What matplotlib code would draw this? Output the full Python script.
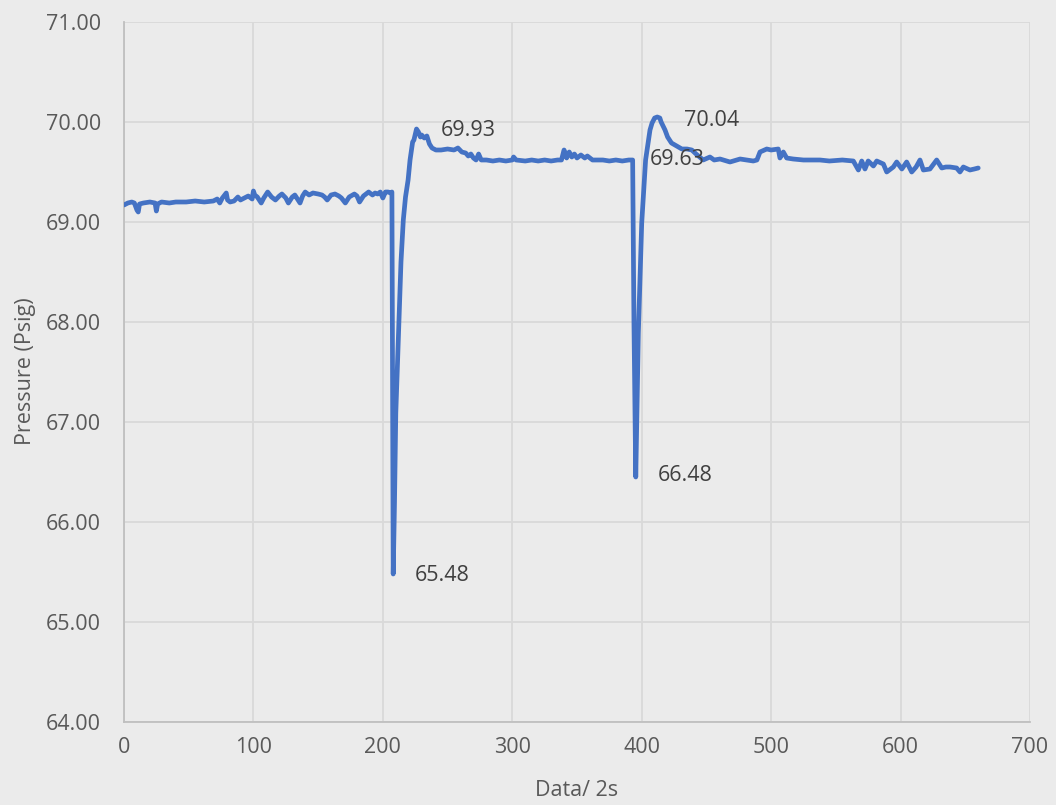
import matplotlib
matplotlib.use("Agg")
import matplotlib.pyplot as plt

# ---- data ----
x_vals = [0, 3, 6, 8, 10, 11, 12, 15, 20, 24, 25, 26, 29, 35, 40, 48, 55, 62, 69, 72,
          74, 76, 79, 80, 82, 85, 88, 90, 93, 96, 99, 100, 101, 103, 106, 108, 111, 114,
          117, 120, 122, 125, 127, 130, 132, 134, 136, 138, 140, 143, 146, 150, 153, 155,
          157, 160, 163, 166, 168, 171, 174, 178, 180, 182, 185, 189, 192, 194, 196, 198,
          200, 202, 204, 206,
          207, 208, 209, 210, 212.5, 214, 215.8, 217.5, 219.5, 221, 223, 224, 226, 227.5,
          229, 230, 232, 234, 236, 238, 241, 245, 250, 255, 258, 261, 264, 266, 268, 270,
          272, 274, 276, 280, 285, 290, 295, 300, 301, 303, 310, 315, 320, 325, 330, 335,
          338, 340, 342, 344, 346, 348, 350, 353, 356, 358, 362, 370, 375, 380, 385, 390,
          393,
          394, 395.4, 397.4, 400, 403, 406.4, 408, 410, 412, 414, 415, 418, 420, 423, 427,
          431, 435, 438.7, 442, 447.5, 452.7, 456, 460.5, 468.2, 476, 486.2, 489, 491.4,
          496.6, 500, 505.5, 506.8, 509.4, 512, 517, 525, 537.7, 545, 555, 563.5, 567.4,
          570, 572.5, 575, 579, 581.6, 586.7, 589.3, 594.4, 597, 601, 604.7, 608.6, 612,
          615, 617.6, 622.7, 627.9, 631.8, 635, 638.2, 643.3, 645.9, 648.5, 653.6, 657, 660]

y_vals = [69.17, 69.19, 69.20, 69.19, 69.12, 69.10, 69.18, 69.19, 69.20, 69.19, 69.11, 69.18,
          69.20, 69.19, 69.20, 69.20, 69.21, 69.20, 69.21, 69.23, 69.19, 69.24, 69.29, 69.22,
          69.20, 69.21, 69.25, 69.22, 69.24, 69.26, 69.23, 69.31, 69.27, 69.25, 69.19, 69.24,
          69.30, 69.25, 69.22, 69.26, 69.28, 69.24, 69.19, 69.25, 69.27, 69.23, 69.19, 69.26,
          69.30, 69.27, 69.29, 69.28, 69.27, 69.25, 69.22, 69.27, 69.28, 69.26, 69.24, 69.19,
          69.25, 69.28, 69.26, 69.20, 69.26, 69.30, 69.27, 69.29, 69.28, 69.30, 69.24, 69.30,
          69.30, 69.29,
          69.30, 65.48, 66.20, 67.09, 68.02, 68.60, 69.02, 69.25, 69.42, 69.62, 69.80, 69.82,
          69.93, 69.90, 69.85, 69.87, 69.84, 69.86, 69.78, 69.74, 69.72, 69.72, 69.73, 69.72,
          69.74, 69.70, 69.69, 69.66, 69.68, 69.64, 69.62, 69.68, 69.62, 69.62, 69.61, 69.62,
          69.61, 69.62, 69.65, 69.62, 69.61, 69.62, 69.61, 69.62, 69.61, 69.62, 69.62, 69.72,
          69.64, 69.70, 69.65, 69.68, 69.64, 69.67, 69.64, 69.66, 69.62, 69.62, 69.61, 69.62,
          69.61, 69.62, 69.62,
          68.00, 66.45, 67.89, 68.99, 69.62, 69.92, 69.99, 70.04, 70.05, 70.04, 70.00, 69.92,
          69.85, 69.79, 69.76, 69.73, 69.73, 69.72, 69.68, 69.62, 69.65, 69.62, 69.63, 69.60,
          69.63, 69.61, 69.62, 69.70, 69.73, 69.72, 69.73, 69.64, 69.70, 69.64, 69.63, 69.62,
          69.62, 69.61, 69.62, 69.61, 69.52, 69.61, 69.53, 69.61, 69.56, 69.61, 69.58, 69.50,
          69.55, 69.60, 69.53, 69.60, 69.50, 69.55, 69.62, 69.52, 69.53, 69.62, 69.54, 69.55,
          69.55, 69.54, 69.50, 69.55, 69.52, 69.53, 69.54]

labels = ["69.93", "70.04", "69.63", "66.48", "65.48"]
label_x = [244.9, 432.7, 406.4, 412.6, 224.8]
label_y = [69.92, 70.02, 69.62, 66.47, 65.47]

x_ticks = [0, 100, 200, 300, 400, 500, 600, 700]
y_ticks = [64, 65, 66, 67, 68, 69, 70, 71]

# ---- figure ----
BG = "#EBEBEB"
FS = 15.5
plt.rcParams['font.family'] = ['Open Sans', 'DejaVu Sans']
fig = plt.figure(figsize=(10.56, 8.05), dpi=100, facecolor=BG)
ax = fig.add_axes([124/1056, 1-722/805, (1030-124)/1056, (722-22)/805])
ax.set_facecolor(BG)

ax.plot(x_vals, y_vals, color="#4472C4", lw=3.4, solid_joinstyle="round",
        solid_capstyle="round", zorder=3)

for t, lx, ly in zip(labels, label_x, label_y):
    ax.text(lx, ly, t, fontsize=FS, color="#404040", ha="left", va="center", zorder=4)

ax.set_xlim(0, 700)
ax.set_ylim(64, 71)
ax.set_xticks(x_ticks)
ax.set_yticks(y_ticks)
ax.set_yticklabels([f"{v:.2f}" for v in y_ticks])
ax.grid(True, color="#D9D9D9", lw=1.3, zorder=0)
ax.set_axisbelow(True)
for s in ["top", "right"]:
    ax.spines[s].set_visible(False)
for s in ["left", "bottom"]:
    ax.spines[s].set_color("#BFBFBF")
    ax.spines[s].set_linewidth(1.3)
ax.tick_params(length=0, labelsize=FS, labelcolor="#595959")
ax.tick_params(axis="y", pad=16.5)
ax.tick_params(axis="x", pad=11)

fig.text(577/1056, 1-790/805, "Data/ 2s", fontsize=FS, color="#595959",
         ha="center", va="center")
fig.text(26/1056, 1-371/805, "Pressure (Psig)", fontsize=FS, color="#595959",
         ha="center", va="center", rotation=90)

fig.savefig("out.png", dpi=100, facecolor=BG)
